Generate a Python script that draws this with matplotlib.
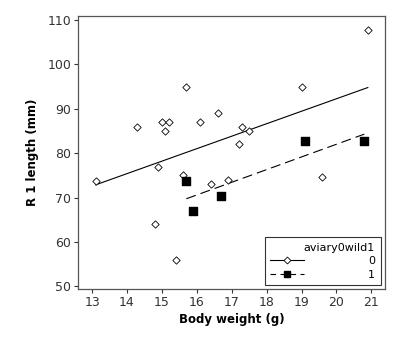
import numpy as np
import matplotlib
matplotlib.use("Agg")
import matplotlib.pyplot as plt

# aviary birds (group 0)
weight_0 = [13.1, 14.3, 14.8, 14.9, 15.0, 15.1, 15.2, 15.4, 15.6, 15.7,
            16.1, 16.4, 16.6, 16.9, 17.2, 17.3, 17.5, 19.0, 19.6, 20.9]
r1_0 = [73.7, 86.0, 64.0, 77.0, 87.0, 85.0, 87.0, 56.0, 75.0, 95.0,
        87.0, 73.0, 89.0, 74.0, 82.0, 86.0, 85.0, 95.0, 74.6, 107.8]

# wild birds (group 1)
weight_1 = [15.7, 15.9, 16.7, 19.1, 20.8]
r1_1 = [73.7, 66.9, 70.4, 82.7, 82.7]

xticks = [13, 14, 15, 16, 17, 18, 19, 20, 21]
yticks = [50, 60, 70, 80, 90, 100, 110]

plt.rcParams['font.family'] = ['DejaVu Sans']
fig = plt.figure(figsize=(4.18, 3.41), dpi=100)
ax = fig.add_axes([0.187, 0.1525, 0.733, 0.8015])

def fit_line(x, y):
    b, a = np.polyfit(x, y, 1)
    xs = np.array([min(x), max(x)])
    return xs, a + b * xs

xs0, ys0 = fit_line(weight_0, r1_0)
xs1, ys1 = fit_line(weight_1, r1_1)

ax.plot(xs0, ys0, color='black', lw=0.8)
ln1, = ax.plot(xs1, ys1, color='black', lw=0.8)
ln1.set_dashes((9, 4.5))

ax.scatter(weight_0, r1_0, marker='D', s=14, facecolors='white',
           edgecolors='black', linewidths=0.6, zorder=3)
ax.scatter(weight_1, r1_1, marker='s', s=28, color='black', zorder=3)

# legend handles
h0, = ax.plot([], [], color='black', lw=0.8, marker='D', ms=3.5,
              mfc='white', mec='black', mew=0.6)
h1, = ax.plot([], [], color='black', lw=0.8, marker='s', ms=5,
              mfc='black', mec='black')
h1.set_dashes((5, 4))
leg = ax.legend([h0, h1], ['0', '1'], title='aviary0wild1', loc='lower right',
                bbox_to_anchor=(0.987, 0.014), borderaxespad=0,
                fontsize=8, title_fontsize=8,
                alignment='right', handlelength=3.0, handletextpad=5.8,
                fancybox=False, edgecolor='#333333', framealpha=1,
                borderpad=0.5, labelspacing=0.3)
leg.get_frame().set_linewidth(0.8)

ax.set_xlim(12.6, 21.38)
ax.set_ylim(49.4, 111.0)
ax.set_xticks(xticks)
ax.set_yticks(yticks)
ax.tick_params(direction='out', length=3, width=0.8, labelsize=9,
               colors='#333333', pad=2)
for sp in ax.spines.values():
    sp.set_color('#555555')
    sp.set_linewidth(0.9)

ax.set_xlabel('Body weight (g)', fontsize=8.5, fontweight='bold', labelpad=3)
ax.set_ylabel('R 1 length (mm)', fontsize=8.5, fontweight='bold', labelpad=6)

fig.savefig('out.png', dpi=100)
